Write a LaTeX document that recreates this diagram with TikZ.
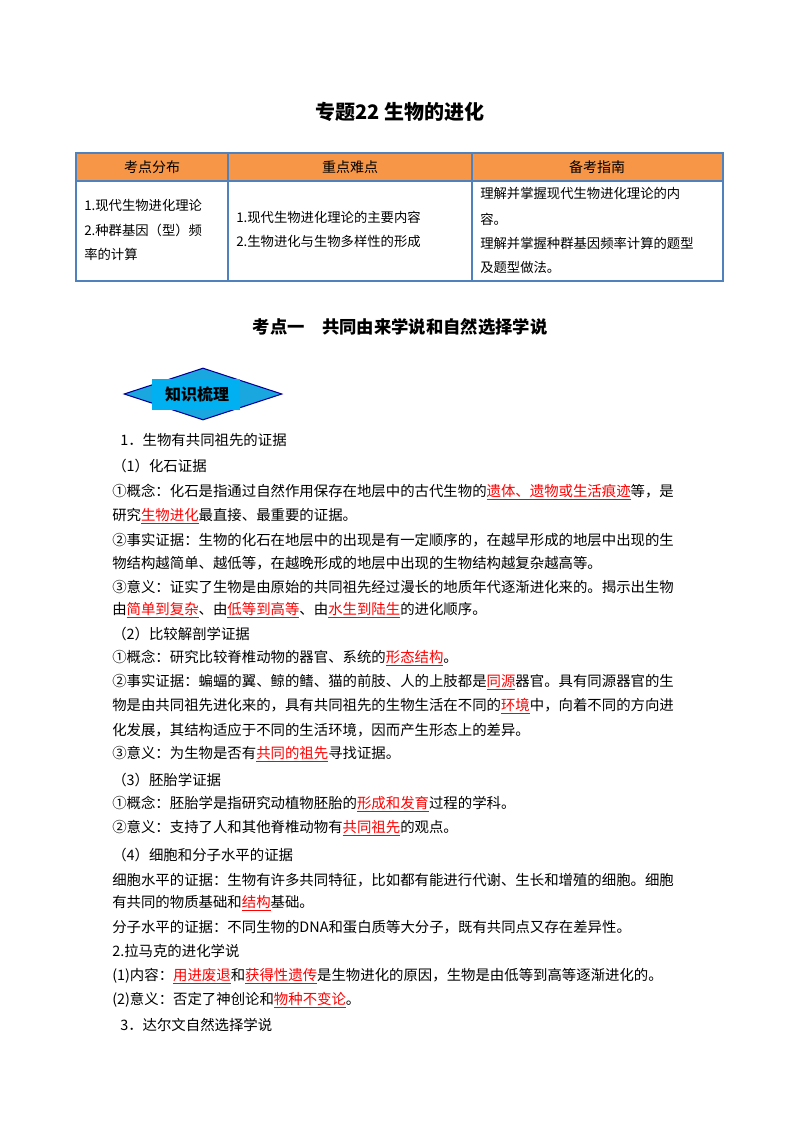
\documentclass[tikz,border=0pt]{standalone}
\usepackage{fontspec}
\setmainfont{Noto Sans CJK SC}
\usetikzlibrary{shapes.geometric}
\definecolor{hdr}{HTML}{F79646}
\definecolor{tblue}{HTML}{4F81BD}
\definecolor{cyanb}{HTML}{1AA7E0}
\definecolor{cyanr}{HTML}{00B0F0}
\newcommand{\hlr}[1]{{\color{red}\underline{#1}}}
\tikzset{
  ln/.style={anchor=west,inner sep=0pt,font=\fontsize{10.8pt}{12pt}\selectfont},
  tc/.style={anchor=west,inner sep=0pt,font=\fontsize{10pt}{12pt}\selectfont},
  th/.style={inner sep=0pt,font=\fontsize{10.5pt}{12pt}\selectfont}
}
\begin{document}
\begin{tikzpicture}[x=0.75pt,y=-0.75pt]
\useasboundingbox[fill=white] (0,0) rectangle (800,1132);
\node[inner sep=0pt,font=\fontsize{15pt}{18pt}\selectfont\bfseries] (title) at (400,112) {专题22\ 生物的进化};
% table
\fill[hdr] (76,153) rectangle (723,181);
\draw[tblue,line width=1.2pt] (76,153) rectangle (723,281) (76,181) -- (723,181) (228,153) -- (228,281) (472,153) -- (472,281);
\node[th] (h1) at (152,167) {考点分布};
\node[th] (h2) at (350,167) {重点难点};
\node[th] (h3) at (597,167) {备考指南};
\node[tc] (a1) at (84,205) {1.现代生物进化理论};
\node[tc] (a2) at (84,230) {2.种群基因（型）频};
\node[tc] (a3) at (84,254) {率的计算};
\node[tc] (b1) at (236,217) {1.现代生物进化理论的主要内容};
\node[tc] (b2) at (236,241) {2.生物进化与生物多样性的形成};
\node[tc] (c1) at (480,193) {理解并掌握现代生物进化理论的内};
\node[tc] (c2) at (480,219) {容。};
\node[tc] (c3) at (480,243) {理解并掌握种群基因频率计算的题型};
\node[tc] (c4) at (480,267) {及题型做法。};
\node[inner sep=0pt,font=\fontsize{13pt}{15pt}\selectfont\bfseries] (sec) at (400,327) {考点一\quad 共同由来学说和自然选择学说};
% badge
\node[diamond,aspect=3.1,minimum width=158*0.75pt,minimum height=52*0.75pt,inner sep=0pt,fill=cyanb,draw=blue!60!black,line width=0.8pt] (dm) at (203,394) {};
\fill[cyanr] (152,379) rectangle (240,410);
\node[inner sep=0pt,font=\fontsize{12pt}{14pt}\selectfont\bfseries] (bt) at (197,394) {知识梳理};
% body
\node[ln] (l1) at (120,440) {1．生物有共同祖先的证据};
\node[ln] (l2) at (112,466) {（1）化石证据};
\node[ln] (l3) at (112,492) {①概念：化石是指通过自然作用保存在地层中的古代生物的\hlr{遗体、遗物或生活痕迹}等，是};
\node[ln] (l4) at (112,516) {研究\hlr{生物进化}最直接、最重要的证据。};
\node[ln] (l5) at (112,540) {②事实证据：生物的化石在地层中的出现是有一定顺序的，在越早形成的地层中出现的生};
\node[ln] (l6) at (112,563) {物结构越简单、越低等，在越晚形成的地层中出现的生物结构越复杂越高等。};
\node[ln] (l7) at (112,587) {③意义：证实了生物是由原始的共同祖先经过漫长的地质年代逐渐进化来的。揭示出生物};
\node[ln] (l8) at (112,610) {由\hlr{简单到复杂}、由\hlr{低等到高等}、由\hlr{水生到陆生}的进化顺序。};
\node[ln] (l9) at (112,634) {（2）比较解剖学证据};
\node[ln] (l10) at (112,658) {①概念：研究比较脊椎动物的器官、系统的\hlr{形态结构}。};
\node[ln] (l11) at (112,682) {②事实证据：蝙蝠的翼、鲸的鳍、猫的前肢、人的上肢都是\hlr{同源}器官。具有同源器官的生};
\node[ln] (l12) at (112,706) {物是由共同祖先进化来的，具有共同祖先的生物生活在不同的\hlr{环境}中，向着不同的方向进};
\node[ln] (l13) at (112,730) {化发展，其结构适应于不同的生活环境，因而产生形态上的差异。};
\node[ln] (l14) at (112,754) {③意义：为生物是否有\hlr{共同的祖先}寻找证据。};
\node[ln] (l15) at (112,780) {（3）胚胎学证据};
\node[ln] (l16) at (112,804) {①概念：胚胎学是指研究动植物胚胎的\hlr{形成和发育}过程的学科。};
\node[ln] (l17) at (112,828) {②意义：支持了人和其他脊椎动物有\hlr{共同祖先}的观点。};
\node[ln] (l18) at (112,855) {（4）细胞和分子水平的证据};
\node[ln] (l19) at (112,880) {细胞水平的证据：生物有许多共同特征，比如都有能进行代谢、生长和增殖的细胞。细胞};
\node[ln] (l20) at (112,903) {有共同的物质基础和\hlr{结构}基础。};
\node[ln] (l21) at (112,927) {分子水平的证据：不同生物的DNA和蛋白质等大分子，既有共同点又存在差异性。};
\node[ln] (l22) at (112,951) {2.拉马克的进化学说};
\node[ln] (l23) at (112,976) {(1)内容：\hlr{用进废退}和\hlr{获得性遗传}是生物进化的原因，生物是由低等到高等逐渐进化的。};
\node[ln] (l24) at (112,1000) {(2)意义：否定了神创论和\hlr{物种不变论}。};
\node[ln] (l25) at (120,1025) {3．达尔文自然选择学说};
\end{tikzpicture}
\end{document}
